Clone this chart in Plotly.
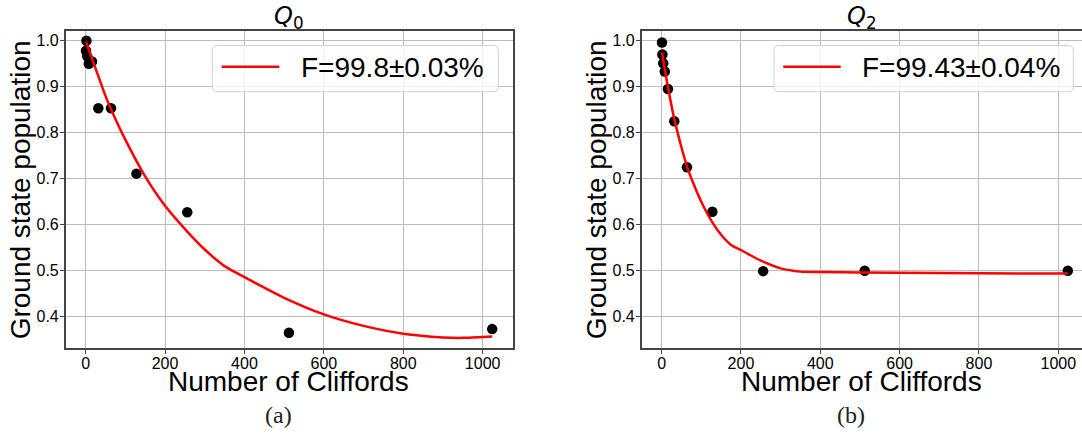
import plotly.graph_objects as go

W, H = 1082, 435

# Randomized benchmarking data: sequence lengths and measured ground-state population
clifford_lengths = [1, 2, 4, 8, 16, 32, 64, 128, 256, 512, 1024]
q0_population = [0.978, 1.000, 0.966, 0.950, 0.955, 0.853, 0.853, 0.711, 0.627, 0.365, 0.373]
q2_population = [0.996, 0.970, 0.951, 0.933, 0.895, 0.825, 0.725, 0.628, 0.499, 0.500, 0.500]

# Fitted decay curves
q0_fit_x = [1, 25, 50, 75, 100, 150, 200, 256, 300, 350, 400, 450, 500, 600, 700, 800, 900, 950, 1000, 1024]
q0_fit_y = [0.998, 0.940, 0.880, 0.830, 0.785, 0.705, 0.641, 0.585, 0.546, 0.510, 0.486, 0.463, 0.441, 0.405, 0.380, 0.363, 0.355, 0.354, 0.356, 0.357]
q2_fit_x = [1, 8, 16, 32, 48, 64, 80, 100, 128, 150, 175, 200, 225, 250, 300, 350, 400, 500, 700, 900, 1024]
q2_fit_y = [0.975, 0.938, 0.899, 0.830, 0.775, 0.727, 0.690, 0.650, 0.605, 0.578, 0.556, 0.545, 0.533, 0.522, 0.505, 0.498, 0.497, 0.496, 0.495, 0.494, 0.494]

panel_titles = ["<i>Q</i><sub>0</sub>", "<i>Q</i><sub>2</sub>"]
fit_labels = ["F=99.8±0.03%", "F=99.43±0.04%"]
captions = ["(a)", "(b)"]
x_title = "Number of Cliffords"
y_title = "Ground state population"
x_ticks = [0, 200, 400, 600, 800, 1000]
y_ticks = [0.4, 0.5, 0.6, 0.7, 0.8, 0.9, 1.0]

SANS = "Liberation Sans, Arial, sans-serif"
SPINE = "#444444"
GRID = "#bcbcbc"


def px(p):
    return p / W


def py(p):
    return 1 - p / H


# panel geometry in pixels
panels = [
    dict(left=65.7, right=512.5, xmax=1075.15, legend=(212.3, 498.3), key=(221.7, 279.3), text=298.5),
    dict(left=641.7, right=W, xmax=1059.8, legend=(774.0, 1073.3), key=(783.3, 840.7), text=859.5),
]
top_px, bottom_px = 31.0, 348.3
y_range = [0.3313, 1.0211]

fig = go.Figure()

series = [
    (q0_population, q0_fit_x, q0_fit_y),
    (q2_population, q2_fit_x, q2_fit_y),
]

annotations = []
shapes = []

for i, (pop, fx, fy) in enumerate(series):
    xa = "x" if i == 0 else "x2"
    ya = "y" if i == 0 else "y2"
    fig.add_trace(go.Scatter(
        x=clifford_lengths, y=pop, mode="markers", xaxis=xa, yaxis=ya,
        marker=dict(color="black", size=10.5), showlegend=False,
    ))
    fig.add_trace(go.Scatter(
        x=fx, y=fy, mode="lines", xaxis=xa, yaxis=ya,
        line=dict(color="#ff0000", width=2.5, shape="spline", smoothing=0.6),
        showlegend=False,
    ))

    p = panels[i]
    axis_common = dict(
        showgrid=True, gridcolor=GRID, gridwidth=1, zeroline=False,
        showline=True, linecolor=SPINE, linewidth=1.5,
        ticks="outside", ticklen=4, tickwidth=1, tickcolor=SPINE,
        tickfont=dict(family=SANS, size=16, color="black"),
    )
    fig.update_layout(**{
        ("xaxis" if i == 0 else "xaxis2"): dict(
            domain=[px(p["left"]), min(1.0, px(p["right"]))],
            range=[-50.15, p["xmax"]], anchor=ya,
            tickvals=x_ticks, mirror=True, ticklabelstandoff=-4, **axis_common,
        ),
        ("yaxis" if i == 0 else "yaxis2"): dict(
            domain=[py(bottom_px), py(top_px)], range=y_range, anchor=xa,
            tickvals=y_ticks, tickformat=".1f", mirror=(i == 0),
            ticklabelstandoff=-2, **axis_common,
        ),
    })

    cx = (p["left"] + (p["left"] + (p["xmax"] + 50.15) * 0.3967)) / 2

    # panel title
    annotations.append(dict(
        text=panel_titles[i], xref="paper", yref="paper",
        x=px(cx), y=py(17), xanchor="center", yanchor="middle", showarrow=False,
        font=dict(family="DejaVu Sans", size=24, color="black"),
    ))
    # axis titles
    annotations.append(dict(
        text=x_title, xref="paper", yref="paper",
        x=px(cx), y=py(381), xanchor="center", yanchor="middle", showarrow=False,
        font=dict(family=SANS, size=28, color="black"),
    ))
    annotations.append(dict(
        text=y_title, xref="paper", yref="paper", textangle=-90,
        x=px(p["left"] - 45), y=py((top_px + bottom_px) / 2), xanchor="center", yanchor="middle",
        showarrow=False, font=dict(family=SANS, size=28, color="black"),
    ))
    # subfigure caption
    annotations.append(dict(
        text=captions[i], xref="paper", yref="paper",
        x=px(278 if i == 0 else 851), y=py(415), xanchor="center", yanchor="middle",
        showarrow=False, font=dict(family="Liberation Serif, serif", size=24, color="#222222"),
    ))

    # legend box with rounded corners
    lx0, lx1 = p["legend"]
    ly0, ly1 = 45.5, 91.7
    r = 5.0
    path = (
        f"M {px(lx0 + r)},{py(ly0)} L {px(lx1 - r)},{py(ly0)} "
        f"Q {px(lx1)},{py(ly0)} {px(lx1)},{py(ly0 + r)} "
        f"L {px(lx1)},{py(ly1 - r)} Q {px(lx1)},{py(ly1)} {px(lx1 - r)},{py(ly1)} "
        f"L {px(lx0 + r)},{py(ly1)} Q {px(lx0)},{py(ly1)} {px(lx0)},{py(ly1 - r)} "
        f"L {px(lx0)},{py(ly0 + r)} Q {px(lx0)},{py(ly0)} {px(lx0 + r)},{py(ly0)} Z"
    )
    shapes.append(dict(
        type="path", path=path, xref="paper", yref="paper",
        fillcolor="rgba(255,255,255,0.8)", line=dict(color="rgba(204,204,204,0.9)", width=1),
        layer="above",
    ))
    kx0, kx1 = p["key"]
    shapes.append(dict(
        type="line", xref="paper", yref="paper",
        x0=px(kx0), x1=px(kx1), y0=py(66.7), y1=py(66.7),
        line=dict(color="#ff0000", width=2.5), layer="above",
    ))
    annotations.append(dict(
        text=fit_labels[i], xref="paper", yref="paper",
        x=px(p["text"]), y=py(67), xanchor="left", yanchor="middle", showarrow=False,
        font=dict(family=SANS, size=28, color="black"),
    ))

fig.update_layout(
    width=W, height=H,
    margin=dict(l=0, r=0, t=0, b=0),
    paper_bgcolor="white", plot_bgcolor="white",
    annotations=annotations, shapes=shapes,
    showlegend=False,
)

fig.write_html("out.html", config={"displayModeBar": False})
